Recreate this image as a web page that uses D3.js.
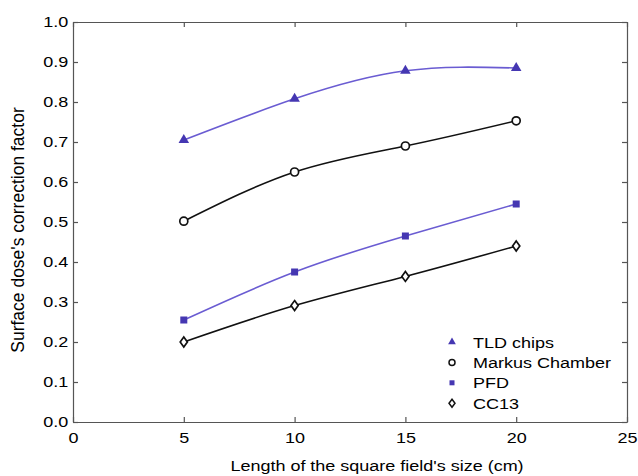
<!DOCTYPE html>
<html>
<head>
<meta charset="utf-8">
<script src="https://cdn.jsdelivr.net/npm/d3@7"></script>
<style>
  body { margin: 0; background: #fff; }
  svg { font-family: "Liberation Sans", Arial, sans-serif; }
  .axis path, .axis line { stroke: #555; stroke-width: 1.2; }
  .axis text { font-size: 15px; fill: #000; }
</style>
</head>
<body>
<svg id="chart"></svg>
<script>
// Field sizes (cm)
const fieldSizes = [5, 10, 15, 20];

// Surface dose correction factors
const tldChips = [0.705, 0.808, 0.878, 0.885];
const markusChamber = [0.502, 0.625, 0.690, 0.753];
const pfd = [0.255, 0.375, 0.465, 0.545];
const cc13 = [0.200, 0.291, 0.364, 0.440];

const xTicks = [0, 5, 10, 15, 20, 25];
const yTicks = [0, 0.1, 0.2, 0.3, 0.4, 0.5, 0.6, 0.7, 0.8, 0.9, 1.0];

const seriesNames = ['TLD chips', 'Markus Chamber', 'PFD', 'CC13'];

const config = {
  containerWidth: 638,
  containerHeight: 476,
  margin: { top: 22, right: 11, bottom: 54, left: 73 }
};
const width = config.containerWidth - config.margin.left - config.margin.right;
const height = config.containerHeight - config.margin.top - config.margin.bottom;

const blueLine = '#6a5cd2';
const blueMark = '#4537b2';

const series = [
  { name: seriesNames[0], values: tldChips, line: blueLine, marker: 'triangle' },
  { name: seriesNames[1], values: markusChamber, line: '#111', marker: 'circle' },
  { name: seriesNames[2], values: pfd, line: blueLine, marker: 'square' },
  { name: seriesNames[3], values: cc13, line: '#111', marker: 'diamond' }
];

const svg = d3.select('#chart')
  .attr('width', config.containerWidth)
  .attr('height', config.containerHeight);

const chart = svg.append('g')
  .attr('transform', `translate(${config.margin.left},${config.margin.top})`);

const xScale = d3.scaleLinear().domain([0, 25]).range([0, width]);
const yScale = d3.scaleLinear().domain([0, 1]).range([height, 0]);

// Text in the picture is wider than it is tall
const stretch = 'scale(1.2,1)';

// Axes, ticks pointing inward on all four sides
const xAxisG = chart.append('g')
  .attr('class', 'axis')
  .attr('transform', `translate(0,${height})`)
  .call(d3.axisBottom(xScale).tickValues(xTicks).tickSizeInner(-5).tickSizeOuter(0).tickPadding(10));
xAxisG.selectAll('text').attr('transform', stretch);

const yAxisG = chart.append('g')
  .attr('class', 'axis')
  .call(d3.axisLeft(yScale).tickValues(yTicks).tickSizeInner(-5).tickSizeOuter(0).tickPadding(4)
    .tickFormat(d3.format('.1f')));
yAxisG.selectAll('text').attr('transform', stretch);

chart.append('g')
  .attr('class', 'axis')
  .call(d3.axisTop(xScale).tickValues(xTicks).tickSizeInner(-5).tickSizeOuter(0).tickFormat(''));

chart.append('g')
  .attr('class', 'axis')
  .attr('transform', `translate(${width},0)`)
  .call(d3.axisRight(yScale).tickValues(yTicks).tickSizeInner(-5).tickSizeOuter(0).tickFormat(''));

// Axis titles
svg.append('text')
  .attr('transform', `translate(377,471) ${stretch}`)
  .attr('text-anchor', 'middle')
  .style('font-size', '15px')
  .attr('fill', '#000')
  .text("Length of the square field's size (cm)");

svg.append('text')
  .attr('transform', 'translate(24,230) rotate(-90)')
  .attr('text-anchor', 'middle')
  .style('font-size', '17.5px')
  .attr('fill', '#000')
  .text("Surface dose's correction factor");

// Marker drawing helper
function drawMarker(g, type, x, y) {
  if (type === 'triangle') {
    g.append('path')
      .attr('d', d3.symbol(d3.symbolTriangle, 48)())
      .attr('transform', `translate(${x},${y})`)
      .attr('fill', blueMark);
  } else if (type === 'square') {
    g.append('rect')
      .attr('x', x - 3.5).attr('y', y - 3.5)
      .attr('width', 7).attr('height', 7)
      .attr('fill', blueMark);
  } else if (type === 'circle') {
    g.append('circle')
      .attr('cx', x).attr('cy', y).attr('r', 4)
      .attr('fill', '#fff').attr('stroke', '#111').attr('stroke-width', 1.7);
  } else {
    g.append('path')
      .attr('d', `M${x},${y - 5}L${x + 3.6},${y}L${x},${y + 5}L${x - 3.6},${y}Z`)
      .attr('fill', '#fff').attr('stroke', '#111').attr('stroke-width', 1.7);
  }
}

// Smooth lines through the points
const line = d3.line()
  .x((d, i) => xScale(fieldSizes[i]))
  .y(d => yScale(d))
  .curve(d3.curveNatural);

series.forEach(s => {
  chart.append('path')
    .attr('d', line(s.values))
    .attr('fill', 'none')
    .attr('stroke', s.line)
    .attr('stroke-width', 1.6);
});

series.forEach(s => {
  const g = chart.append('g');
  s.values.forEach((v, i) => drawMarker(g, s.marker, xScale(fieldSizes[i]), yScale(v)));
});

// Legend
const legend = svg.append('g').attr('transform', 'translate(452,342)');
series.forEach((s, i) => {
  const row = legend.append('g').attr('transform', `translate(0,${i * 20.4})`);
  if (s.marker === 'triangle') {
    row.append('path')
      .attr('d', d3.symbol(d3.symbolTriangle, 26)())
      .attr('fill', blueMark);
  } else if (s.marker === 'square') {
    row.append('rect')
      .attr('x', -2.5).attr('y', -2.5).attr('width', 5).attr('height', 5)
      .attr('fill', blueMark);
  } else if (s.marker === 'circle') {
    row.append('circle').attr('r', 3)
      .attr('fill', '#fff').attr('stroke', '#111').attr('stroke-width', 1.5);
  } else {
    row.append('path')
      .attr('d', 'M0,-4L3,0L0,4L-3,0Z')
      .attr('fill', '#fff').attr('stroke', '#111').attr('stroke-width', 1.5);
  }
  row.append('text')
    .attr('transform', `translate(21,5.5) ${stretch}`)
    .style('font-size', '15px')
    .attr('fill', '#000')
    .text(s.name);
});
</script>
</body>
</html>
